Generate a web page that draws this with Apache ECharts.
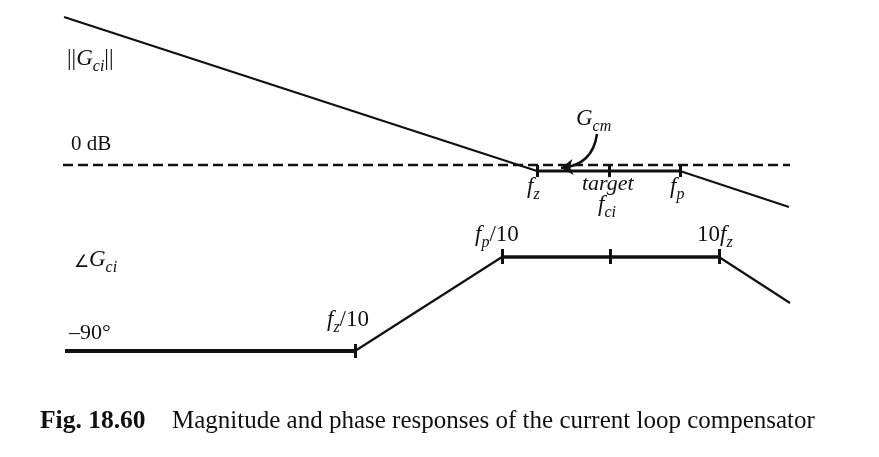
<!DOCTYPE html>
<html>
<head>
<meta charset="utf-8">
<script src="https://cdn.jsdelivr.net/npm/echarts@6/dist/echarts.min.js"></script>
<style>
  html, body { margin: 0; padding: 0; background: #fff; }
  #chart { width: 879px; height: 457px; }
</style>
</head>
<body>
<div id="chart"></div>
<script>
// 크기 응답 (magnitude) - 점 좌표는 그림에서 읽은 값
var magLow = [[64, 17], [537, 171]];
var magFlat = [[537, 171], [680, 171]];       // G_cm 구간
var magHigh = [[680, 171], [789, 207]];
var zeroDb = [[63, 165], [790, 165]];
var magTickX = [537, 609, 680];               // fz, target fci, fp
var magTickY = [165, 177];

// 위상 응답 (phase)
var phaseLow = [[65, 351], [355, 351]];
var phaseRise = [[355, 351], [502, 257]];
var phaseFlat = [[502, 257], [719, 257]];
var phaseFall = [[719, 257], [790, 303]];
var phaseTickLow = [355, 344, 358];           // x, y1, y2
var phaseTickX = [502, 610, 719];             // fp/10, 중간, 10fz
var phaseTickY = [249, 264];

// G_cm 화살표
var arrowCoords = [[597, 134], [561, 168]];

var SERIF = '"Liberation Serif", "Times New Roman", serif';
var INK = '#111111';

var ctx = document.createElement('canvas').getContext('2d');
function fnt(size, it, bold) {
	return (it ? 'italic ' : '') + (bold ? 'bold ' : '') + size + 'px ' + SERIF;
}

// 조각 텍스트 (아래첨자 포함) 를 graphic text 로 배치
function label(x, base, pieces) {
	var out = [];
	var cx = x;
	pieces.forEach(function (p) {
		var f = fnt(p.s, p.i, p.b);
		ctx.font = f;
		out.push({
			type: 'text',
			x: cx,
			y: base + (p.dy || 0) - 0.34 * p.s,
			silent: true,
			style: { text: p.t, font: f, fill: INK, verticalAlign: 'middle', textAlign: 'left' }
		});
		cx += ctx.measureText(p.t).width + (p.gap || 0);
	});
	return out;
}

var myChart = echarts.init(document.getElementById('chart'));

function seg(data, w, dash) {
	return {
		type: 'line',
		data: data,
		symbol: 'none',
		silent: true,
		animation: false,
		lineStyle: { color: INK, width: w, type: dash || 'solid', dashOffset: 0 }
	};
}

var tickLines = [];
magTickX.forEach(function (x) {
	tickLines.push({ coords: [[x, magTickY[0]], [x, magTickY[1]]] });
});
phaseTickX.forEach(function (x) {
	tickLines.push({ coords: [[x, phaseTickY[0]], [x, phaseTickY[1]]] });
});
tickLines.push({ coords: [[phaseTickLow[0], phaseTickLow[1]], [phaseTickLow[0], phaseTickLow[2]]] });

var G = 23, S = 16, D = 5; // 본문, 아래첨자 크기, 아래첨자 내림
var graphics = [].concat(
	label(67, 67, [{ t: '||', s: G }, { t: 'G', s: G, i: true }, { t: 'ci', s: S, i: true, dy: D }, { t: '||', s: G }]),
	label(71, 152, [{ t: '0 dB', s: 21 }]),
	label(576, 127, [{ t: 'G', s: G, i: true }, { t: 'cm', s: S, i: true, dy: D }]),
	label(527, 195, [{ t: 'f', s: G, i: true }, { t: 'z', s: S, i: true, dy: D }]),
	label(582, 192, [{ t: 'target', s: 22, i: true }]),
	label(598, 213, [{ t: 'f', s: G, i: true }, { t: 'ci', s: S, i: true, dy: D }]),
	label(670, 195, [{ t: 'f', s: G, i: true }, { t: 'p', s: S, i: true, dy: D }]),
	label(74, 268, [{ t: '\u2220', s: 17 }, { t: 'G', s: G, i: true }, { t: 'ci', s: S, i: true, dy: D }]),
	label(69, 341, [{ t: '\u201390\u00b0', s: 22 }]),
	label(327, 328, [{ t: 'f', s: G, i: true }, { t: 'z', s: S, i: true, dy: D }, { t: '/10', s: G }]),
	label(475, 243, [{ t: 'f', s: G, i: true }, { t: 'p', s: S, i: true, dy: D }, { t: '/10', s: G }]),
	label(697, 243, [{ t: '10', s: G }, { t: 'f', s: G, i: true }, { t: 'z', s: S, i: true, dy: D }]),
	label(40, 430, [{ t: 'Fig. 18.60', s: 25.5, b: true }]),
	label(172, 430, [{ t: 'Magnitude and phase responses of the current loop compensator', s: 25 }])
);

var option = {
	animation: false,
	grid: { left: 0, right: 0, top: 0, bottom: 0 },
	xAxis: { type: 'value', min: 0, max: 879, show: false },
	yAxis: { type: 'value', min: 0, max: 457, inverse: true, show: false },
	series: [
		seg(zeroDb, 2.4, [10, 5]),
		seg(magLow, 2.2),
		seg(magFlat, 3),
		seg(magHigh, 2.2),
		seg(phaseLow, 4),
		seg(phaseRise, 2.2),
		seg(phaseFlat, 3.5),
		seg(phaseFall, 2.2),
		{
			type: 'lines',
			coordinateSystem: 'cartesian2d',
			silent: true,
			lineStyle: { color: INK, width: 3, opacity: 1 },
			data: tickLines
		},
		{
			type: 'lines',
			coordinateSystem: 'cartesian2d',
			silent: true,
			symbol: ['none', 'arrow'],
			symbolSize: 12,
			lineStyle: { color: INK, width: 2.5, opacity: 1, curveness: 0.4 },
			data: [{ coords: arrowCoords }]
		}
	],
	graphic: graphics
};

myChart.setOption(option);
</script>
</body>
</html>
